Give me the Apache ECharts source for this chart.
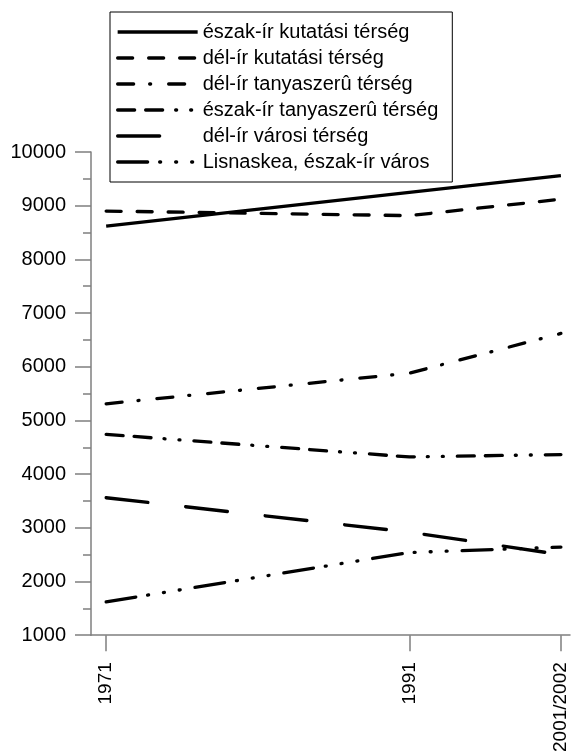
<!DOCTYPE html>
<html>
<head>
<meta charset="utf-8">
<script src="https://cdn.jsdelivr.net/npm/echarts@6/dist/echarts.min.js"></script>
<style>
html,body{margin:0;padding:0;background:#fff;}
#c{width:571px;height:755px;}
</style>
</head>
<body>
<div id="c"></div>
<script>
var years = [1971, 1991, 2001];
var yearLabels = {1971: '1971', 1991: '1991', 2001: '2001/2002'};
var seriesNames = ['észak-ír kutatási térség', 'dél-ír kutatási térség', 'dél-ír tanyaszerû térség', 'észak-ír tanyaszerû térség', 'dél-ír városi térség', 'Lisnaskea, észak-ír város'];
var eszakKutatasi = [8620, 9250, 9560];
var delKutatasi = [8900, 8815, 9120];
var delTanyaszeru = [5310, 5880, 6620];
var eszakTanyaszeru = [4740, 4320, 4365];
var delVarosi = [3560, 2920, 2500];
var lisnaskea = [1620, 2540, 2640];
var yTicks = [1000, 10000, 1000];

var values = [eszakKutatasi, delKutatasi, delTanyaszeru, eszakTanyaszeru, delVarosi, lisnaskea];
var dashes = ['solid', [15, 16], [16, 16, 1, 18], [17, 11, 17, 13, 1, 14, 1, 14], [42, 38], [30, 12, 1, 15, 1, 15, 1, 15]];

var axisGrey = '#7f7f7f';
var font = '"Liberation Sans", Arial, sans-serif';

var chart = echarts.init(document.getElementById('c'), null, {renderer: 'canvas'});
var series = seriesNames.map(function (n, i) {
  return {
    name: n,
    type: 'line',
    symbol: 'none',
    data: years.map(function (y, j) { return [y, values[i][j]]; }),
    lineStyle: {color: '#000', width: 3.3, type: dashes[i], cap: i === 0 ? 'butt' : 'round'},
    itemStyle: {color: '#000'},
    animation: false
  };
});

chart.setOption({
  animation: false,
  backgroundColor: '#fff',
  grid: {left: 91, right: 1, top: 152, bottom: 119, containLabel: false},
  legend: {
    orient: 'vertical',
    left: 110,
    top: 12,
    padding: [10, 14, 10, 6],
    backgroundColor: '#fff',
    borderColor: '#000',
    borderWidth: 1,
    borderRadius: 0,
    itemWidth: 80,
    itemHeight: 14,
    itemGap: 6,
    itemStyle: {opacity: 0},
    lineStyle: {width: 3.3},
    textStyle: {fontFamily: font, fontSize: 20, color: '#000', lineHeight: 20},
    data: seriesNames
  },
  xAxis: {
    type: 'value',
    min: 1970,
    max: 2001.6,
    axisLine: {show: true, lineStyle: {color: axisGrey, width: 1.5}},
    axisTick: {show: true, customValues: years, length: 16, inside: false, lineStyle: {color: axisGrey, width: 1.5}},
    axisLabel: {
      customValues: years, rotate: 90, margin: 27, color: '#000', fontFamily: font, fontSize: 19,
      formatter: function (v) { return yearLabels[v] || ''; }
    },
    splitLine: {show: false}
  },
  yAxis: {
    type: 'value',
    min: yTicks[0],
    max: yTicks[1],
    interval: yTicks[2],
    axisLine: {show: true, lineStyle: {color: axisGrey, width: 1.5}},
    axisTick: {show: true, length: 16, lineStyle: {color: axisGrey, width: 1.5}},
    minorTick: {show: true, splitNumber: 2, length: 8, lineStyle: {color: axisGrey, width: 1.5}},
    axisLabel: {margin: 25, color: '#000', fontFamily: font, fontSize: 20, formatter: function (v) { return String(v); }},
    splitLine: {show: false}
  },
  series: series
});
</script>
</body>
</html>
